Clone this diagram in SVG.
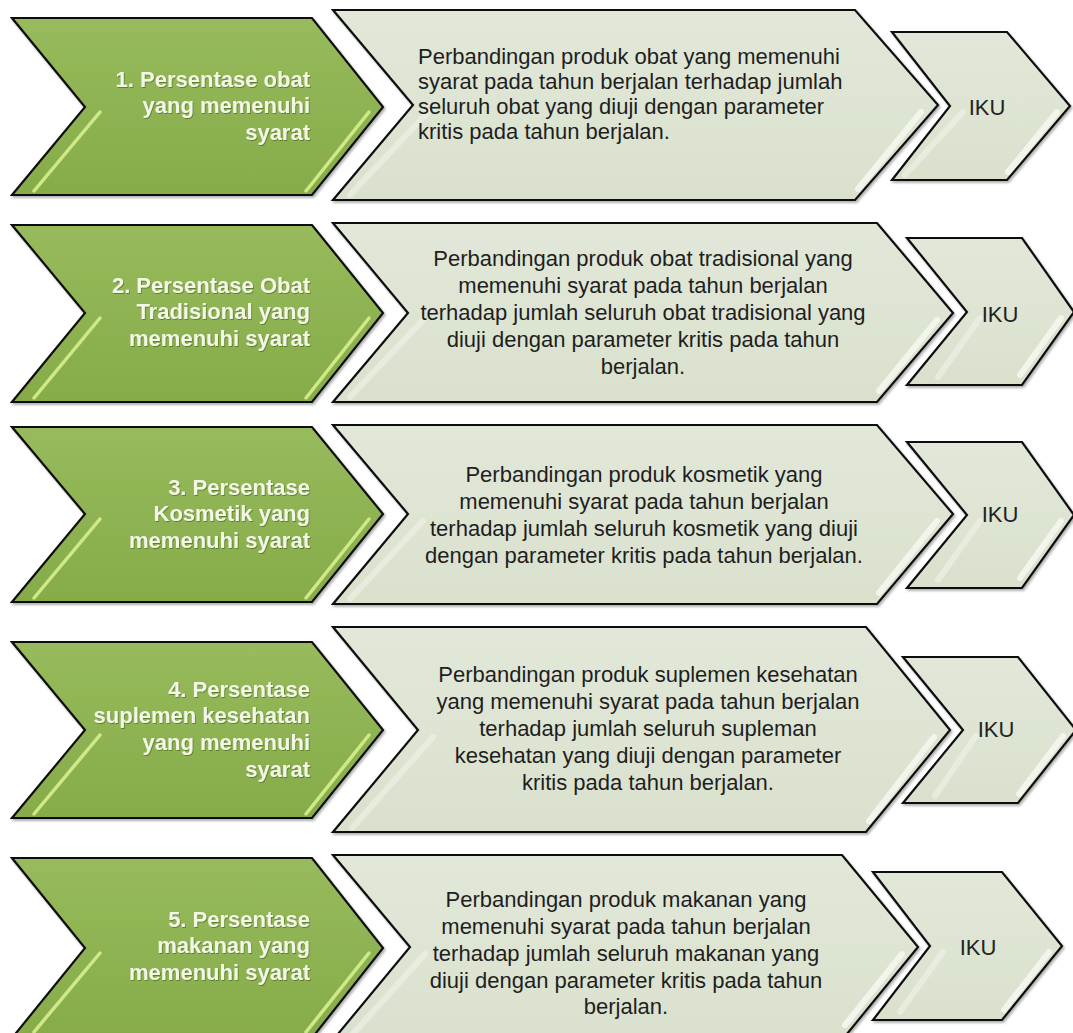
<svg xmlns="http://www.w3.org/2000/svg" width="1073" height="1033" viewBox="0 0 1073 1033">
<defs>
<linearGradient id="gg" x1="0" y1="0" x2="0" y2="1">
<stop offset="0" stop-color="#97bb5c"/>
<stop offset="1" stop-color="#86ab49"/>
</linearGradient>
<linearGradient id="lg" x1="0" y1="0" x2="0" y2="1">
<stop offset="0" stop-color="#e2e8d9"/>
<stop offset="1" stop-color="#d9e1cd"/>
</linearGradient>
<filter id="sh" x="-5%" y="-5%" width="112%" height="120%">
<feDropShadow dx="1.5" dy="2" stdDeviation="1.2" flood-color="#000" flood-opacity="0.3"/>
</filter>
<filter id="ts" x="-5%" y="-10%" width="110%" height="130%">
<feDropShadow dx="0.8" dy="1" stdDeviation="0.6" flood-color="#3d5a14" flood-opacity="0.6"/>
</filter>
</defs>
<style>
.gp{fill:url(#gg);stroke:#111;stroke-width:2.2;stroke-linejoin:miter;filter:url(#sh)}
.lp{fill:url(#lg);stroke:#111;stroke-width:2.2;stroke-linejoin:miter;filter:url(#sh)}
.gh{stroke:#d8f08e;stroke-width:3.5;stroke-linecap:round;opacity:0.9}
.lh{stroke:#f7f9f1;stroke-width:6;stroke-linecap:round;opacity:0.85}
.lf{stroke:#f7f9f1;stroke-width:6;stroke-linecap:round;opacity:0.45}
.g{font-family:"Liberation Sans",Arial,sans-serif;font-weight:bold;font-size:22px;fill:#f3f7e6;text-anchor:end;filter:url(#ts)}
.m{font-family:"Liberation Sans",Arial,sans-serif;font-size:22px;fill:#1e1e1e}
.mc{text-anchor:middle}
.i{font-family:"Liberation Sans",Arial,sans-serif;font-size:22px;fill:#222;text-anchor:middle}
</style>
<rect width="1073" height="1033" fill="#ffffff"/>
<g id="connectors"/>

<!-- Row 1 -->
<g id="r1-indicator">
<polygon class="gp" points="12,18 312,18 383,107 312,195 12,195 85,107"/>
<line class="gh" x1="100" y1="112" x2="34" y2="191"/>
<line class="gh" x1="369" y1="112" x2="306" y2="191"/>
<text class="g"><tspan x="310" y="87">1. Persentase obat</tspan><tspan x="310" y="113">yang memenuhi</tspan><tspan x="310" y="140">syarat</tspan></text>
</g>
<g id="r1-definition">
<polygon class="lp" points="333,10 855,10 938,105 855,200 333,200 413,105"/>
<line class="lh" x1="921" y1="112" x2="858" y2="189"/>
<line class="lf" x1="428" y1="112" x2="350" y2="195"/>
<text class="m"><tspan x="418" y="64">Perbandingan produk obat yang memenuhi</tspan><tspan x="418" y="89">syarat pada tahun berjalan terhadap jumlah</tspan><tspan x="418" y="114">seluruh obat yang diuji dengan parameter</tspan><tspan x="418" y="139">kritis pada tahun berjalan.</tspan></text>
</g>
<g id="r1-iku">
<polygon class="lp" points="892,32 1007,32 1070,106 1007,180 892,180 950,106"/>
<line class="lh" x1="1057" y1="112" x2="1008" y2="172"/>
<line class="lf" x1="963" y1="112" x2="905" y2="175"/>
<text class="i" x="987" y="115">IKU</text>
</g>

<!-- Row 2 -->
<g id="r2-indicator">
<polygon class="gp" points="12,225 312,225 383,313 312,402 12,402 85,313"/>
<line class="gh" x1="100" y1="318" x2="34" y2="398"/>
<line class="gh" x1="369" y1="318" x2="306" y2="398"/>
<text class="g"><tspan x="310" y="293">2. Persentase Obat</tspan><tspan x="310" y="319">Tradisional yang</tspan><tspan x="310" y="346">memenuhi syarat</tspan></text>
</g>
<g id="r2-definition">
<polygon class="lp" points="333,223 877,223 953,313 877,402 333,402 408,313"/>
<line class="lh" x1="937" y1="320" x2="879" y2="391"/>
<line class="lf" x1="423" y1="320" x2="350" y2="397"/>
<text class="m mc"><tspan x="643" y="266">Perbandingan produk obat tradisional yang</tspan><tspan x="643" y="293">memenuhi syarat pada tahun berjalan</tspan><tspan x="643" y="320">terhadap jumlah seluruh obat tradisional yang</tspan><tspan x="643" y="347">diuji dengan parameter kritis pada tahun</tspan><tspan x="643" y="374">berjalan.</tspan></text>
</g>
<g id="r2-iku">
<polygon class="lp" points="907,238 1022,238 1074,312 1022,385 907,385 967,312"/>
<line class="lh" x1="1061" y1="318" x2="1020" y2="375"/>
<line class="lf" x1="980" y1="318" x2="938" y2="377"/>
<text class="i" x="1000" y="322">IKU</text>
</g>

<!-- Row 3 -->
<g id="r3-indicator">
<polygon class="gp" points="12,427 312,427 383,514 312,602 12,602 85,514"/>
<line class="gh" x1="100" y1="519" x2="34" y2="598"/>
<line class="gh" x1="369" y1="519" x2="306" y2="598"/>
<text class="g"><tspan x="310" y="495">3. Persentase</tspan><tspan x="310" y="521">Kosmetik  yang</tspan><tspan x="310" y="548">memenuhi syarat</tspan></text>
</g>
<g id="r3-definition">
<polygon class="lp" points="333,425 877,425 953,514 877,604 333,604 408,514"/>
<line class="lh" x1="937" y1="521" x2="879" y2="593"/>
<line class="lf" x1="423" y1="521" x2="350" y2="599"/>
<text class="m mc"><tspan x="644" y="482">Perbandingan produk kosmetik yang</tspan><tspan x="644" y="509">memenuhi syarat pada tahun berjalan</tspan><tspan x="644" y="536">terhadap jumlah seluruh kosmetik yang diuji</tspan><tspan x="644" y="563">dengan parameter kritis pada tahun berjalan.</tspan></text>
</g>
<g id="r3-iku">
<polygon class="lp" points="907,442 1022,442 1074,515 1022,588 907,588 967,515"/>
<line class="lh" x1="1061" y1="521" x2="1020" y2="578"/>
<line class="lf" x1="980" y1="521" x2="938" y2="580"/>
<text class="i" x="1000" y="522">IKU</text>
</g>

<!-- Row 4 -->
<g id="r4-indicator">
<polygon class="gp" points="12,642 312,642 383,730 312,818 12,818 85,730"/>
<line class="gh" x1="100" y1="735" x2="34" y2="814"/>
<line class="gh" x1="369" y1="735" x2="306" y2="814"/>
<text class="g"><tspan x="310" y="697">4. Persentase</tspan><tspan x="310" y="723">suplemen kesehatan</tspan><tspan x="310" y="750">yang memenuhi</tspan><tspan x="310" y="777">syarat</tspan></text>
</g>
<g id="r4-definition">
<polygon class="lp" points="333,627 866,627 950,730 866,832 333,832 418,730"/>
<line class="lh" x1="934" y1="737" x2="869" y2="821"/>
<line class="lf" x1="433" y1="737" x2="352" y2="828"/>
<text class="m mc"><tspan x="648" y="682">Perbandingan produk suplemen kesehatan</tspan><tspan x="648" y="709">yang memenuhi syarat pada tahun berjalan</tspan><tspan x="648" y="736">terhadap jumlah seluruh supleman</tspan><tspan x="648" y="763">kesehatan yang diuji dengan parameter</tspan><tspan x="648" y="790">kritis pada tahun berjalan.</tspan></text>
</g>
<g id="r4-iku">
<polygon class="lp" points="903,657 1018,657 1076,730 1018,803 903,803 963,730"/>
<line class="lh" x1="1063" y1="736" x2="1019" y2="794"/>
<line class="lf" x1="976" y1="736" x2="935" y2="796"/>
<text class="i" x="996" y="737">IKU</text>
</g>

<!-- Row 5 -->
<g id="r5-indicator">
<polygon class="gp" points="12,858 312,858 383,948 312,1038 12,1038 85,948"/>
<line class="gh" x1="100" y1="953" x2="34" y2="1032"/>
<line class="gh" x1="369" y1="953" x2="306" y2="1032"/>
<text class="g"><tspan x="310" y="927">5. Persentase</tspan><tspan x="310" y="953">makanan yang</tspan><tspan x="310" y="980">memenuhi syarat</tspan></text>
</g>
<g id="r5-definition">
<polygon class="lp" points="333,855 842,855 918,947 842,1040 333,1040 410,947"/>
<line class="lh" x1="902" y1="954" x2="845" y2="1025"/>
<line class="lf" x1="425" y1="954" x2="352" y2="1035"/>
<text class="m mc"><tspan x="626" y="907">Perbandingan produk makanan yang</tspan><tspan x="626" y="934">memenuhi syarat pada tahun berjalan</tspan><tspan x="626" y="961">terhadap jumlah seluruh makanan yang</tspan><tspan x="626" y="988">diuji dengan parameter kritis pada tahun</tspan><tspan x="626" y="1014">berjalan.</tspan></text>
</g>
<g id="r5-iku">
<polygon class="lp" points="873,872 1002,872 1062,946 1002,1020 873,1020 930,946"/>
<line class="lh" x1="1049" y1="952" x2="1004" y2="1010"/>
<line class="lf" x1="943" y1="952" x2="900" y2="1012"/>
<text class="i" x="978" y="955">IKU</text>
</g>
</svg>
